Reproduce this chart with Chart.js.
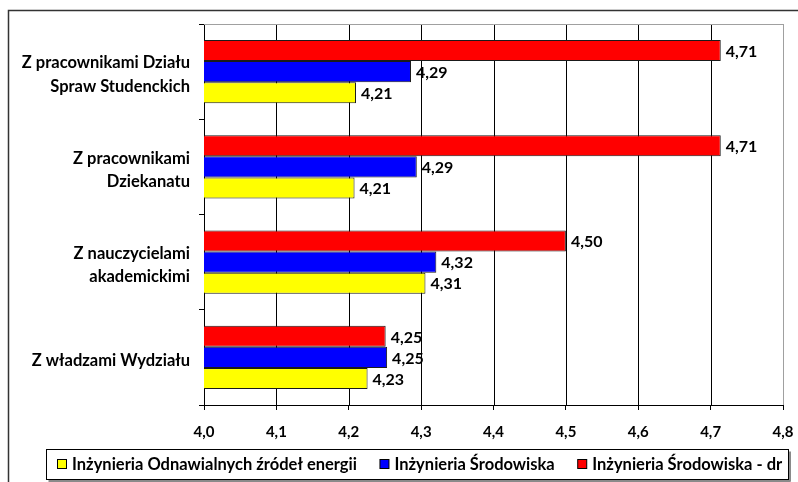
<!DOCTYPE html>
<html>
<head>
<meta charset="utf-8">
<script src="https://cdn.jsdelivr.net/npm/chart.js@4/dist/chart.umd.min.js"></script>
<style>
  html, body { margin: 0; padding: 0; background: #fff; }
  #wrap { width: 798px; height: 482px; position: relative; }
</style>
</head>
<body>
<div id="wrap"><canvas id="c" width="798" height="482"></canvas></div>
<script>
// ---- data ----
const categories = [
  ['Z pracownikami Działu', 'Spraw Studenckich'],
  ['Z pracownikami', 'Dziekanatu'],
  ['Z nauczycielami', 'akademickimi'],
  'Z władzami Wydziału'
];
const seriesNames = [
  'Inżynieria Odnawialnych źródeł energii',
  'Inżynieria Środowiska',
  'Inżynieria Środowiska - dr'
];
const valuesOZE = [4.21, 4.208, 4.306, 4.226];
const valuesIS = [4.286, 4.294, 4.321, 4.253];
const valuesISdr = [4.714, 4.714, 4.50, 4.251];
const xTicksMin = 4.0;
const xTicksMax = 4.8;
const xTickStep = 0.1;

const colors = ['#FFFF00', '#0000FF', '#FF0000'];
const FONT = 'Lato';

function fmt(v, d) { return v.toFixed(d).replace('.', ','); }

// drawing order: red on top, then blue, then yellow
const seriesData = [valuesOZE, valuesIS, valuesISdr];
const order = [2, 1, 0];
const datasets = order.map(i => ({
  label: seriesNames[i],
  data: seriesData[i],
  backgroundColor: colors[i],
  borderColor: '#1a1a1a',
  borderWidth: 1,
  borderSkipped: false,
  categoryPercentage: 0.662,
  barPercentage: 1.0
}));

const decorPlugin = {
  id: 'decor',
  beforeDraw(chart) {
    const ctx = chart.ctx;
    ctx.save();
    ctx.fillStyle = '#fff';
    ctx.fillRect(0, 0, chart.width, chart.height);
    // outer frame
    ctx.strokeStyle = '#333';
    ctx.lineWidth = 1.5;
    ctx.strokeRect(8.5, 10.5, 820, 500);
    ctx.restore();
  },
  beforeDatasetsDraw(chart) {
    const ctx = chart.ctx;
    const a = chart.chartArea;
    const xs = chart.scales.x;
    ctx.save();
    ctx.lineWidth = 1;
    // vertical grid lines from the x scale ticks
    xs.ticks.forEach((t, i) => {
      if (i === 0) return;
      const px = Math.round(xs.getPixelForValue(t.value)) + 0.5;
      ctx.strokeStyle = (i === xs.ticks.length - 1) ? '#a0a0a0' : '#000';
      ctx.beginPath();
      ctx.moveTo(px, Math.round(a.top));
      ctx.lineTo(px, Math.round(a.bottom));
      ctx.stroke();
    });
    // plot area top border
    ctx.strokeStyle = '#a0a0a0';
    ctx.beginPath();
    ctx.moveTo(a.left, Math.round(a.top) + 0.5);
    ctx.lineTo(Math.round(a.right) + 0.5, Math.round(a.top) + 0.5);
    ctx.stroke();
    ctx.restore();
  },
  afterDatasetsDraw(chart) {
    const ctx = chart.ctx;
    ctx.save();
    ctx.font = 'bold 16px ' + FONT;
    ctx.fillStyle = '#000';
    ctx.textAlign = 'left';
    ctx.textBaseline = 'middle';
    chart.data.datasets.forEach((ds, di) => {
      const meta = chart.getDatasetMeta(di);
      meta.data.forEach((el, i) => {
        ctx.fillText(fmt(ds.data[i], 2), el.x + 5, el.y + 1);
      });
    });
    ctx.restore();
  },
  afterDraw(chart) {
    const ctx = chart.ctx;
    ctx.save();
    // legend box
    const bx = 46.5, by = 449.5, bw = 742, bh = 30;
    ctx.fillStyle = '#8a8a8a';
    ctx.fillRect(bx + 2, by + bh + 0.5, bw, 3);
    ctx.fillRect(bx + bw + 0.5, by + 2, 2, bh);
    ctx.fillStyle = '#fff';
    ctx.fillRect(bx, by, bw, bh);
    ctx.strokeStyle = '#000';
    ctx.lineWidth = 1;
    ctx.strokeRect(bx, by, bw, bh);
    // legend items (reverse of drawing order => yellow, blue, red)
    ctx.font = 'bold 16.5px ' + FONT;
    ctx.textBaseline = 'middle';
    ctx.textAlign = 'left';
    let x = 57.5;
    const cy = 464;
    const items = chart.data.datasets.slice().reverse();
    items.forEach(ds => {
      ctx.fillStyle = ds.backgroundColor;
      ctx.fillRect(x, cy - 4.5, 9, 9);
      ctx.strokeStyle = '#000';
      ctx.strokeRect(x, cy - 4.5, 9, 9);
      x += 14.5;
      ctx.fillStyle = '#000';
      ctx.fillText(ds.label, x, cy + 1);
      x += ctx.measureText(ds.label).width + 23;
    });
    ctx.restore();
  }
};

new Chart(document.getElementById('c'), {
  type: 'bar',
  data: { labels: categories, datasets: datasets },
  options: {
    indexAxis: 'y',
    responsive: false,
    animation: false,
    layout: { padding: { left: 8, right: 15, top: 24, bottom: 0 } },
    plugins: { legend: { display: false }, tooltip: { enabled: false } },
    scales: {
      x: {
        type: 'linear',
        min: xTicksMin,
        max: xTicksMax,
        ticks: {
          stepSize: xTickStep,
          color: '#000',
          font: { family: FONT, size: 15, weight: 'bold' },
          padding: 13,
          callback: v => fmt(v, 1)
        },
        grid: {
          color: '#000',
          lineWidth: 1,
          drawOnChartArea: false,
          drawTicks: true,
          tickLength: 5
        },
        border: { color: '#000', width: 1 },
        afterFit: s => { s.height = 77; s.paddingRight = 12; s.paddingLeft = 12; }
      },
      y: {
        ticks: {
          color: '#000',
          font: { family: FONT, size: 16.5, weight: 'bold', lineHeight: 1.4 },
          padding: 9,
          labelOffset: 3
        },
        grid: {
          drawOnChartArea: false,
          drawTicks: true,
          tickLength: 5,
          color: '#000',
          offset: true
        },
        border: { color: '#000', width: 1 },
        afterFit: s => { s.width = 196; }
      }
    }
  },
  plugins: [decorPlugin]
});
</script>
</body>
</html>
